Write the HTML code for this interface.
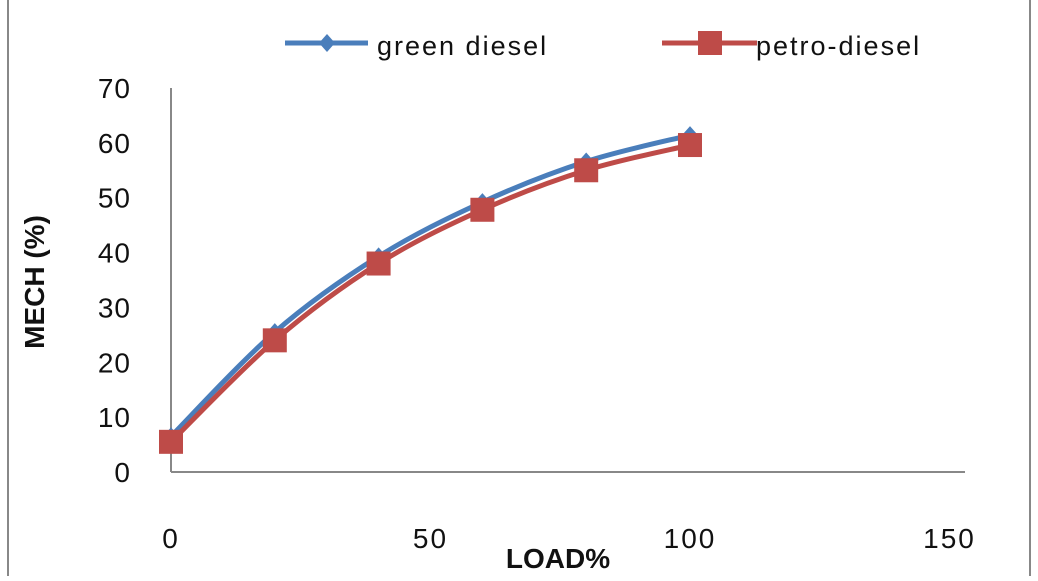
<!DOCTYPE html>
<html><head><meta charset="utf-8"><style>
body{margin:0;background:#fff}
svg text{font-family:"Liberation Sans",sans-serif;fill:#111}
</style></head><body>
<svg width="1038" height="576">
<line x1="8" y1="0" x2="8" y2="576" stroke="#888" stroke-width="2"/>
<line x1="1030" y1="0" x2="1030" y2="576" stroke="#888" stroke-width="2"/>
<g id="axes"></g>
<g id="series"></g>
<g>
 <g>
  <line x1="285" y1="43" x2="368" y2="43" stroke="#4a7ebb" stroke-width="5"/>
  <polygon points="327,34 335,43 327,52 319,43" fill="#4a7ebb"/>
  <text x="377" y="55" font-size="27" letter-spacing="2">green diesel</text>
 </g>
 <g>
  <line x1="662" y1="43" x2="757" y2="43" stroke="#be4b48" stroke-width="5"/>
  <rect x="698" y="31" width="24" height="24" fill="#be4b48"/>
  <text x="756" y="55" font-size="27" letter-spacing="2">petro-diesel</text>
 </g>
</g>
<text x="44" y="282" font-size="28" font-weight="bold" text-anchor="middle" transform="rotate(-90 44 282)">MECH (%)</text>
<text x="558" y="568" font-size="28" font-weight="bold" text-anchor="middle">LOAD%</text>
</svg>
<script>
const xs=[0,20,40,60,80,100];
const green=[6.5,25.5,39.3,49.2,56.6,61.4];
const petro=[5.5,24,38,47.8,55,59.6];
const yTicks=[0,10,20,30,40,50,60,70];
const xTicks=[0,50,100,150];
const X=v=>171+v*5.19, Y=v=>472-v*5.486;
const NS="http://www.w3.org/2000/svg";
function mk(t,a,p){const e=document.createElementNS(NS,t);for(const k in a)e.setAttribute(k,a[k]);p.appendChild(e);return e;}
const ax=document.getElementById('axes'),se=document.getElementById('series');
let l=mk('line',{x1:171,y1:Y(70),x2:171,y2:472,stroke:'#888','stroke-width':2},ax);


l=mk('line',{x1:171,y1:472,x2:965,y2:472,stroke:'#888','stroke-width':2},ax);


yTicks.forEach(v=>{const t=mk('text',{x:131,y:Y(v)+10,'font-size':28,'text-anchor':'end','letter-spacing':1},ax);t.textContent=v;

});
xTicks.forEach(v=>{const t=mk('text',{x:X(v),y:548,'font-size':28,'text-anchor':'middle','letter-spacing':2},ax);t.textContent=v;

});
function smooth(pts){let d=`M${pts[0][0]},${pts[0][1]}`;for(let i=0;i<pts.length-1;i++){const p0=pts[i-1]||pts[i],p1=pts[i],p2=pts[i+1],p3=pts[i+2]||p2;
d+=` C${p1[0]+(p2[0]-p0[0])/6},${p1[1]+(p2[1]-p0[1])/6} ${p2[0]-(p3[0]-p1[0])/6},${p2[1]-(p3[1]-p1[1])/6} ${p2[0]},${p2[1]}`;}return d;}
function draw(vals,col,name,sq){const pts=xs.map((x,i)=>[X(x),Y(vals[i])]);
const p=mk('path',{d:smooth(pts),fill:'none',stroke:col,'stroke-width':5},se);


pts.forEach(q=>{let m;if(sq)m=mk('rect',{x:q[0]-12,y:q[1]-12,width:24,height:24,fill:col},se);
else m=mk('polygon',{points:`${q[0]},${q[1]-9} ${q[0]+8},${q[1]} ${q[0]},${q[1]+9} ${q[0]-8},${q[1]}`,fill:col},se);

});}
draw(green,'#4a7ebb','green-diesel',false);
draw(petro,'#be4b48','petro-diesel',true);
</script>
</body></html>
